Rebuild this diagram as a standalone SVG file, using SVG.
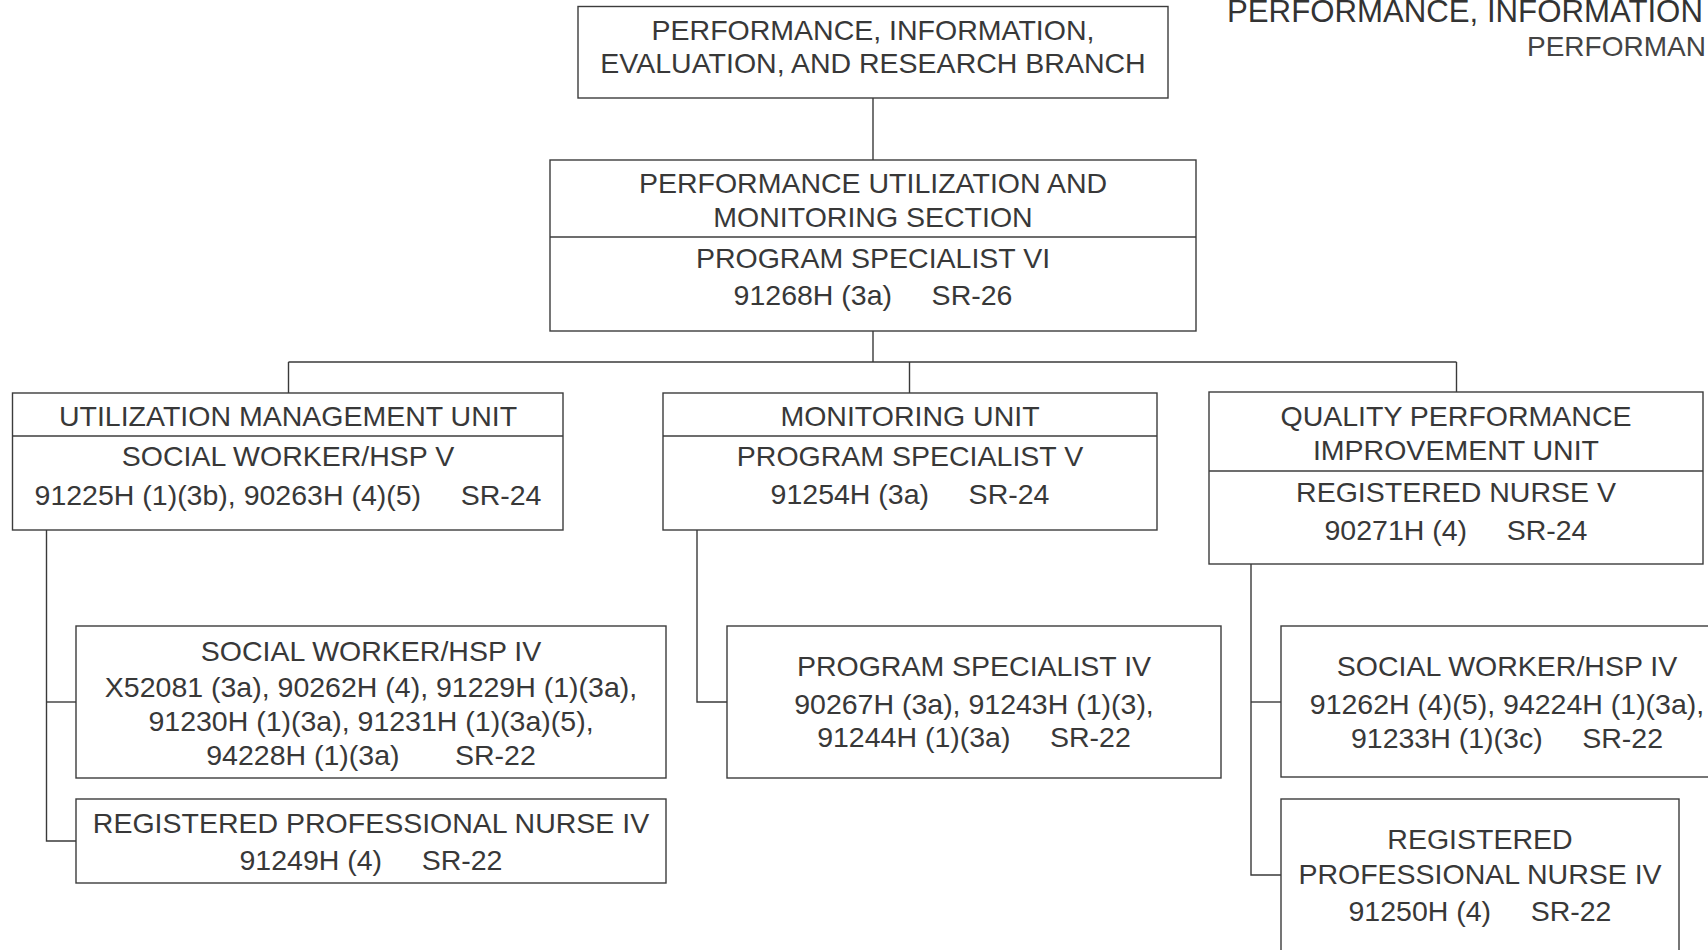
<svg xmlns="http://www.w3.org/2000/svg" width="1708" height="950" viewBox="0 0 1708 950">
<style>
.bg{fill:#ffffff}
.box{fill:#ffffff;stroke:#3c3c3c;stroke-width:1.4}
.div{stroke:#3c3c3c;stroke-width:1.4;fill:none}
.con{stroke:#3a3a3a;stroke-width:1.4;fill:none}
.t{font-family:"Liberation Sans",Arial,Helvetica,sans-serif;font-size:28.5px;fill:#383838;text-anchor:middle}
.hd1{font-family:"Liberation Sans",Arial,Helvetica,sans-serif;font-size:31.2px;fill:#333333}
.hd2{font-family:"Liberation Sans",Arial,Helvetica,sans-serif;font-size:28px;fill:#444444}
</style>
<rect class="bg" x="0" y="0" width="1708" height="950"/>
<g id="page-header">
<text class="hd1" x="1227" y="22">PERFORMANCE, INFORMATION</text>
<text class="hd2" x="1527" y="56">PERFORMAN</text>
</g>
<g id="connectors">
<line class="con" x1="873" y1="98" x2="873" y2="160"/>
<line class="con" x1="873" y1="331" x2="873" y2="362"/>
<line class="con" x1="288.5" y1="362" x2="1456.5" y2="362"/>
<line class="con" x1="288.5" y1="362" x2="288.5" y2="393"/>
<line class="con" x1="909.5" y1="362" x2="909.5" y2="393"/>
<line class="con" x1="1456.5" y1="362" x2="1456.5" y2="392"/>
<polyline class="con" points="46.5,530 46.5,841 76,841"/>
<line class="con" x1="46.5" y1="702" x2="76" y2="702"/>
<polyline class="con" points="697,530 697,702 727,702"/>
<polyline class="con" points="1251,564 1251,875 1281,875"/>
<line class="con" x1="1251" y1="702" x2="1281" y2="702"/>
</g>
<g id="branch">
<rect class="box" x="578" y="6.5" width="590" height="91.5"/>
<text class="t" x="873" y="40">PERFORMANCE, INFORMATION,</text>
<text class="t" x="873" y="73">EVALUATION, AND RESEARCH BRANCH</text>
</g>
<g id="section">
<rect class="box" x="550" y="160" width="646" height="171"/>
<line class="div" x1="550" y1="237" x2="1196" y2="237"/>
<text class="t" x="873" y="193">PERFORMANCE UTILIZATION AND</text>
<text class="t" x="873" y="227">MONITORING SECTION</text>
<text class="t" x="873" y="268">PROGRAM SPECIALIST VI</text>
<text class="t" x="873" y="305">91268H (3a)&#160;&#160;&#160;&#160;&#160;SR-26</text>
</g>
<g id="utilization-unit">
<rect class="box" x="12.5" y="393" width="550.5" height="137"/>
<line class="div" x1="12.5" y1="436" x2="563" y2="436"/>
<text class="t" x="288" y="426">UTILIZATION MANAGEMENT UNIT</text>
<text class="t" x="288" y="466">SOCIAL WORKER/HSP V</text>
<text class="t" x="288" y="505">91225H (1)(3b), 90263H (4)(5)&#160;&#160;&#160;&#160;&#160;SR-24</text>
</g>
<g id="monitoring-unit">
<rect class="box" x="663" y="393" width="494" height="137"/>
<line class="div" x1="663" y1="436" x2="1157" y2="436"/>
<text class="t" x="910" y="426">MONITORING UNIT</text>
<text class="t" x="910" y="466">PROGRAM SPECIALIST V</text>
<text class="t" x="910" y="504">91254H (3a)&#160;&#160;&#160;&#160;&#160;SR-24</text>
</g>
<g id="quality-unit">
<rect class="box" x="1209" y="392" width="494" height="172"/>
<line class="div" x1="1209" y1="471" x2="1703" y2="471"/>
<text class="t" x="1456" y="426">QUALITY PERFORMANCE</text>
<text class="t" x="1456" y="460">IMPROVEMENT UNIT</text>
<text class="t" x="1456" y="502">REGISTERED NURSE V</text>
<text class="t" x="1456" y="540">90271H (4)&#160;&#160;&#160;&#160;&#160;SR-24</text>
</g>
<g id="um-social-worker">
<rect class="box" x="76" y="626" width="590" height="152"/>
<text class="t" x="371" y="661">SOCIAL WORKER/HSP IV</text>
<text class="t" x="371" y="697">X52081 (3a), 90262H (4), 91229H (1)(3a),</text>
<text class="t" x="371" y="731">91230H (1)(3a), 91231H (1)(3a)(5),</text>
<text class="t" x="371" y="765">94228H (1)(3a)&#160;&#160;&#160;&#160;&#160;&#160;&#160;SR-22</text>
</g>
<g id="um-nurse">
<rect class="box" x="76" y="799" width="590" height="84"/>
<text class="t" x="371" y="833">REGISTERED PROFESSIONAL NURSE IV</text>
<text class="t" x="371" y="870">91249H (4)&#160;&#160;&#160;&#160;&#160;SR-22</text>
</g>
<g id="mon-program-specialist">
<rect class="box" x="727" y="626" width="494" height="152"/>
<text class="t" x="974" y="676">PROGRAM SPECIALIST IV</text>
<text class="t" x="974" y="714">90267H (3a), 91243H (1)(3),</text>
<text class="t" x="974" y="747">91244H (1)(3a)&#160;&#160;&#160;&#160;&#160;SR-22</text>
</g>
<g id="qpi-social-worker">
<rect class="box" x="1281" y="626" width="452" height="151"/>
<text class="t" x="1507" y="676">SOCIAL WORKER/HSP IV</text>
<text class="t" x="1507" y="714">91262H (4)(5), 94224H (1)(3a),</text>
<text class="t" x="1507" y="748">91233H (1)(3c)&#160;&#160;&#160;&#160;&#160;SR-22</text>
</g>
<g id="qpi-nurse">
<rect class="box" x="1281" y="799" width="398" height="170"/>
<text class="t" x="1480" y="849">REGISTERED</text>
<text class="t" x="1480" y="884">PROFESSIONAL NURSE IV</text>
<text class="t" x="1480" y="921">91250H (4)&#160;&#160;&#160;&#160;&#160;SR-22</text>
</g>
</svg>
